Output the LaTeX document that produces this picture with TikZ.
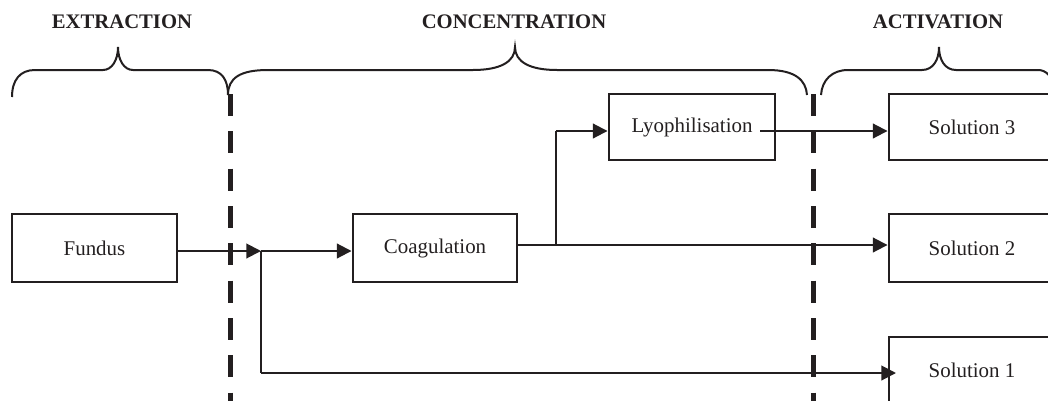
\documentclass[tikz,border=0pt]{standalone}
\usepackage{fontspec}
\setmainfont{Liberation Serif}
\usetikzlibrary{arrows.meta,calc}
\definecolor{ink}{HTML}{231F20}
\begin{document}
\begin{tikzpicture}[x=0.75pt,y=-0.75pt,
  box/.style={draw=ink,line width=2.2pt,rectangle,inner sep=0pt,text=ink,
    font=\fontsize{15.7pt}{18pt}\selectfont},
  conn/.style={draw=ink,line width=1.5pt,-{Triangle[length=11pt,width=11pt]}},
  plain/.style={draw=ink,line width=1.5pt},
  thin/.style={draw=ink,line width=1.2pt},
  divider/.style={draw=ink,line width=3.75pt,dash pattern=on 16.5pt off 11.5pt},
  bracepath/.style={draw=ink,line width=1.5pt},
  phase/.style={text=ink,font=\fontsize{15.5pt}{18pt}\selectfont\bfseries}]
\useasboundingbox (0,0) rectangle (1048,400);
\clip (0,0) rectangle (1048,400);

% phase labels
\node[phase] (lext) at (122,22) {EXTRACTION};
\node[phase] (lcon) at (514,22) {CONCENTRATION};
\node[phase] (lact) at (938,22) {ACTIVATION};

% braces
\draw[bracepath] (12,97) .. controls (12,80) and (20,70) .. (35,70) -- (103,70)
  .. controls (112,70) and (118,60) .. (118,47)
  .. controls (118,60) and (124,70) .. (133,70) -- (208,70)
  .. controls (222,70) and (228,80) .. (228,95);
\draw[bracepath] (228,95) .. controls (228,78) and (240,70) .. (268,70) -- (473,70)
  .. controls (500,70) and (515,62) .. (515,47)
  .. controls (515,62) and (530,70) .. (557,70) -- (768,70)
  .. controls (795,70) and (806,80) .. (807,95);
\draw[bracepath] (821,95) .. controls (822,80) and (832,70) .. (848,70) -- (922,70)
  .. controls (933,70) and (939,60) .. (939,47)
  .. controls (939,60) and (945,70) .. (956,70) -- (1038,70)
  .. controls (1046,70) and (1052,76) .. (1054,88);

% dividers
\draw[divider] (230,94) -- (230,402);
\draw[divider] (813,94) -- (813,402);

% boxes
\node[box,minimum width=165*0.75pt,minimum height=68*0.75pt] (fundus) at (94.5,248) {Fundus};
\node[box,minimum width=164*0.75pt,minimum height=68*0.75pt] (coag) at (435,248) {Coagulation};
\node[box,minimum width=166*0.75pt,minimum height=66*0.75pt] (lyo) at (692,127) {Lyophilisation};
\node[box,minimum width=166*0.75pt,minimum height=66*0.75pt] (sol3) at (972,127) {Solution 3};
\node[box,minimum width=166*0.75pt,minimum height=68*0.75pt] (sol2) at (972,248) {Solution 2};
\node[box,minimum width=166*0.75pt,minimum height=66*0.75pt] (sol1) at (972,370) {Solution 1};

% junctions
\coordinate (J) at (261,251);
\coordinate (K) at (556,245);
\coordinate (lyoin) at (609,131);
\coordinate (lyoout) at (760,131);
\coordinate (s1in) at (896,373);

% connectors
\draw[conn] (fundus.east |- J) -- (J);
\draw[conn] (J) -- (coag.west |- J);
\draw[thin] (J) -- (J |- s1in);
\draw[conn] (J |- s1in) -- (s1in);
\draw[conn] (coag.east |- K) -- (sol2.west |- K);
\draw[thin] (K) -- (K |- lyoin);
\draw[conn] (K |- lyoin) -- (lyo.west |- lyoin);
\draw[conn] (lyoout) -- (sol3.west |- lyoout);
\end{tikzpicture}
\end{document}
